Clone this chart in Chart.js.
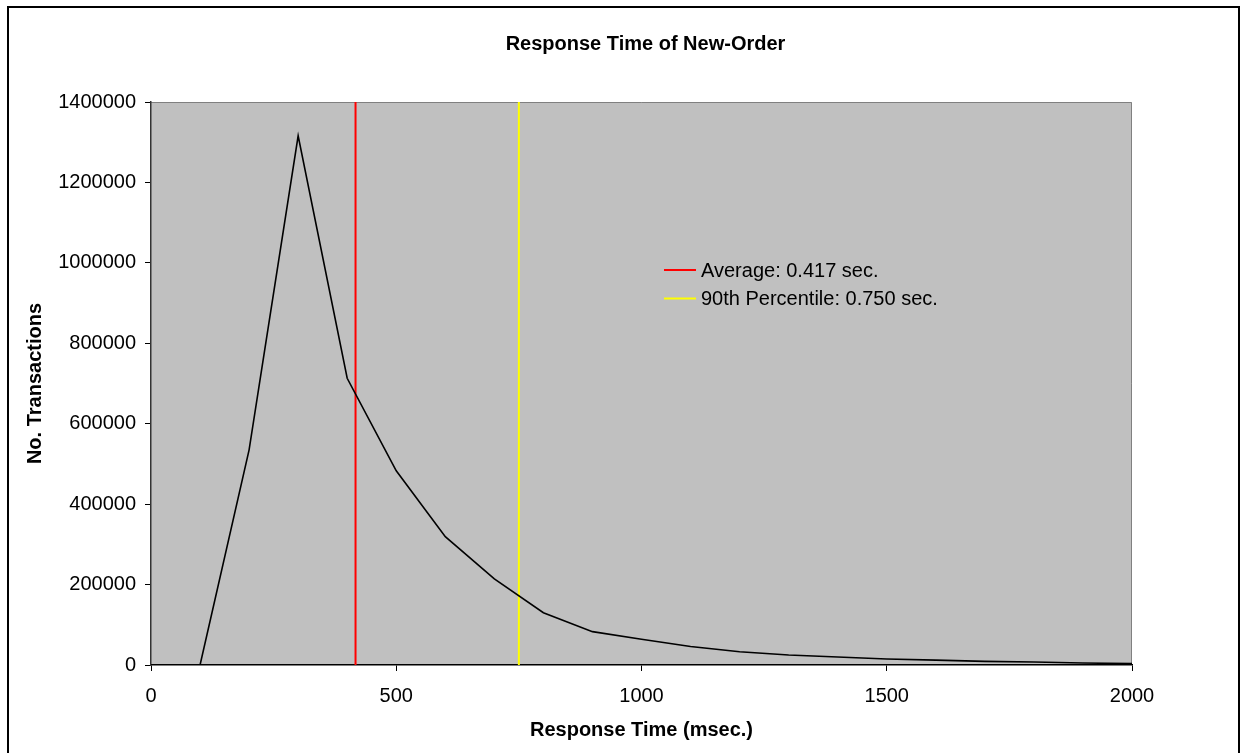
<!DOCTYPE html>
<html>
<head>
<meta charset="utf-8">
<script src="https://cdn.jsdelivr.net/npm/chart.js@4/dist/chart.umd.min.js"></script>
<style>
  html, body { margin: 0; padding: 0; background: #fff; }
  #wrap { width: 1243px; height: 753px; }
</style>
</head>
<body>
<div id="wrap"><canvas id="resp_chart" width="1243" height="753"></canvas></div>
<script>
// response time buckets (msec.) and number of transactions
const responseTimes = [0, 100, 200, 300, 400, 500, 600, 700, 800, 900, 1000,
  1100, 1200, 1300, 1400, 1500, 1600, 1700, 1800, 1900, 2000];
const transactions = [0, 0, 535000, 1316000, 713000, 483000, 319000, 214000, 130000, 83000, 64000,
  46000, 33000, 25000, 20000, 15000, 12000, 9000, 7500, 5000, 3300];

const averageMs = 417;
const percentile90Ms = 750;
const averageLabel = "Average: 0.417 sec.";
const percentileLabel = "90th Percentile: 0.750 sec.";

const xTicks = [0, 500, 1000, 1500, 2000];
const yTicks = [0, 200000, 400000, 600000, 800000, 1000000, 1200000, 1400000];

const FONT = "'Liberation Sans', Arial, sans-serif";

// white page, outer frame, grey plot area
const framePlugin = {
    id: 'frame',
    afterLayout(chart) {
        // excel centres the title a bit right of the page middle
        if (chart.titleBlock) {
            chart.titleBlock.left = 159;
            chart.titleBlock.right = 1132;
        }
    },
    beforeDraw(chart) {
        const c = chart.ctx, a = chart.chartArea;
        c.save();
        c.fillStyle = '#fff';
        c.fillRect(0, 0, chart.width, chart.height);
        c.strokeStyle = '#000';
        c.lineWidth = 2;
        c.strokeRect(8, 7, 1231, 800);
        c.fillStyle = '#c0c0c0';
        c.fillRect(a.left, a.top, a.right - a.left, a.bottom - a.top);
        c.strokeStyle = '#808080';
        c.lineWidth = 1;
        c.beginPath();
        c.moveTo(a.left, a.top + 0.5);
        c.lineTo(a.right - 0.5, a.top + 0.5);
        c.lineTo(a.right - 0.5, a.bottom);
        c.stroke();
        c.restore();
    }
};

// legend drawn inside the plot area
const innerLegend = {
    id: 'innerLegend',
    afterDatasetsDraw(chart) {
        const c = chart.ctx, a = chart.chartArea;
        const x0 = a.left + 513, y0 = a.top + 168;
        c.save();
        c.font = "20px " + FONT;
        c.textBaseline = 'middle';
        chart.data.datasets.forEach(function(ds, i) {
            if (!ds.inLegend) return;
            const y = y0 + (i - 1) * 28.5;
            c.strokeStyle = ds.borderColor;
            c.lineWidth = 2;
            c.beginPath();
            c.moveTo(x0, y);
            c.lineTo(x0 + 32, y);
            c.stroke();
            c.fillStyle = '#000';
            c.fillText(ds.label, x0 + 37, y + 1);
        });
        c.restore();
    }
};

let ctx = document.getElementById('resp_chart');
let respChart = new Chart(ctx, {
    type: 'scatter',
    plugins: [framePlugin, innerLegend],
    data: {
        datasets: [
            {
                label: 'New-Order',
                data: responseTimes.map((t, i) => ({x: t, y: transactions[i]})),
                showLine: true,
                borderColor: '#000',
                borderWidth: 1.6,
                pointRadius: 0,
                tension: 0
            },
            {
                label: averageLabel,
                inLegend: true,
                data: [{x: averageMs, y: 0}, {x: averageMs, y: 1400000}],
                showLine: true,
                borderColor: '#ff0000',
                borderWidth: 2,
                pointRadius: 0
            },
            {
                label: percentileLabel,
                inLegend: true,
                data: [{x: percentile90Ms, y: 0}, {x: percentile90Ms, y: 1400000}],
                showLine: true,
                borderColor: '#ffff00',
                borderWidth: 2,
                pointRadius: 0
            }
        ]
    },
    options: {
        responsive: false,
        animation: false,
        layout: { padding: { left: 0, right: 111, top: 0, bottom: 0 } },
        plugins: {
            legend: { display: false },
            tooltip: { enabled: false },
            title: {
                display: true,
                text: 'Response Time of New-Order',
                color: '#000',
                font: { family: FONT, size: 20, weight: 'bold' },
                padding: { top: 32, bottom: 46 }
            }
        },
        scales: {
            x: {
                type: 'linear',
                min: 0,
                max: 2000,
                afterBuildTicks: s => { s.ticks = xTicks.map(v => ({value: v})); },
                afterFit: s => { s.height = 88; },
                grid: { drawOnChartArea: false, drawTicks: true, tickLength: 6, color: '#000' },
                border: { display: true, color: '#000', width: 1.5 },
                ticks: {
                    color: '#000',
                    padding: 13,
                    maxRotation: 0,
                    font: { family: FONT, size: 20 },
                    callback: v => String(v)
                },
                title: {
                    display: true,
                    text: 'Response Time (msec.)',
                    color: '#000',
                    font: { family: FONT, size: 20, weight: 'bold' },
                    padding: { top: 0, bottom: 11 }
                }
            },
            y: {
                type: 'linear',
                min: 0,
                max: 1400000,
                afterBuildTicks: s => { s.ticks = yTicks.map(v => ({value: v})); },
                afterFit: s => { s.width = 151; },
                grid: { drawOnChartArea: false, drawTicks: true, tickLength: 6, color: '#000' },
                border: { display: true, color: '#333', width: 1.5 },
                ticks: {
                    color: '#000',
                    padding: 9,
                    font: { family: FONT, size: 20 },
                    callback: v => String(v)
                },
                title: {
                    display: true,
                    text: 'No. Transactions',
                    color: '#000',
                    font: { family: FONT, size: 20, weight: 'bold' },
                    padding: { top: 23, bottom: 0 }
                }
            }
        }
    }
});
</script>
</body>
</html>
